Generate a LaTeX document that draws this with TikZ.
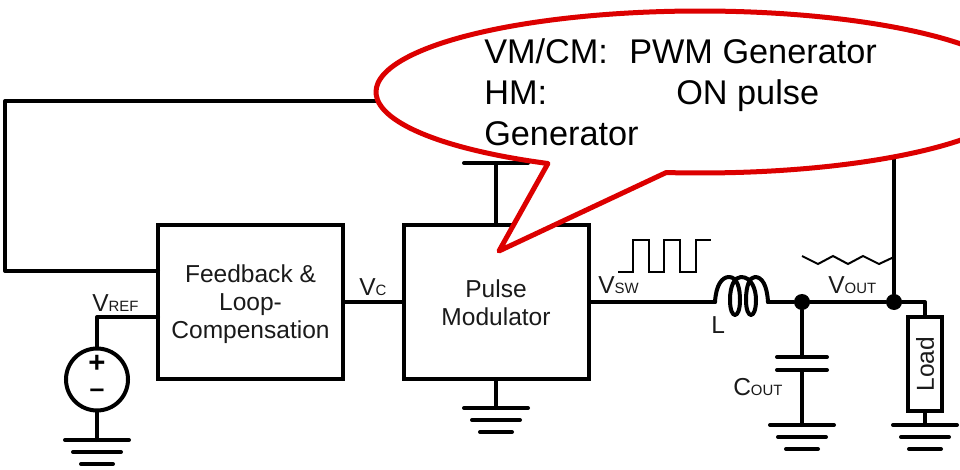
\documentclass[tikz,border=0pt]{standalone}
\usepackage{fontspec}
\setmainfont{Liberation Sans}
\newcommand{\lblbig}{\fontsize{18.4}{21}\selectfont}
\newcommand{\lblsmall}{\fontsize{11.2}{13}\selectfont}
\newcommand{\vlabel}[2]{{\lblbig #1}{\lblsmall #2}}
\definecolor{calloutred}{HTML}{DC0000}
\definecolor{inktext}{HTML}{1A1A1A}
\tikzset{
  wire/.style={line width=3pt,line join=round,line cap=round,black},
  thinwave/.style={line width=1.5pt,line join=miter,black},
  block/.style={draw,line width=3pt,rectangle,inner sep=0pt},
  blocktext/.style={align=center,font=\lblbig,text=inktext,inner sep=0pt},
  lbl/.style={inner sep=0pt,anchor=base west,text=inktext,font=\lblbig},
  dot/.style={circle,fill=black,inner sep=0pt,minimum size=12pt},
  callout/.style={draw=calloutred,fill=white,line width=3.75pt,line join=round},
}
\begin{document}
\begin{tikzpicture}[x=0.75pt,y=-0.75pt]
\useasboundingbox (0,0) rectangle (960,470);
% blocks
\node[block,minimum width=138.75pt,minimum height=115.5pt] (fb) at (250.5,302) {};
\node[blocktext] (fbtxt) at (250.5,304) {Feedback \&\\Loop-\\Compensation};
\node[block,minimum width=138.75pt,minimum height=115.5pt] (pm) at (496,302) {};
\node[blocktext] (pmtxt) at (496,303) {Pulse\\Modulator};
\node[block,minimum width=25.5pt,minimum height=70.5pt] (load) at (925,364) {};
\node[blocktext,rotate=90] (loadtxt) at (925,364) {Load};
\node[draw,line width=3pt,circle,minimum size=46.5pt,inner sep=0pt] (src) at (97,379.5) {};
\node[inner sep=0pt,font=\fontsize{22}{22}\selectfont\bfseries] (plus) at (97,364) {+};
\node[inner sep=0pt,font=\fontsize{20}{20}\selectfont\bfseries] (minus) at (97,393) {–};
% junctions
\node[dot] (j1) at (802,302) {};
\node[dot] (j2) at (894,302) {};
% named coordinates
\coordinate (ref) at (97,317);
\coordinate (fbin) at (158,317);
\coordinate (fbs) at (158,271);
\coordinate (bl) at (5,271);
\coordinate (tl) at (5,101);
\coordinate (tr) at (894,101);
\coordinate (coilin) at (715,302);
\coordinate (coilout) at (768,302);
\coordinate (lc) at (925,302);
\coordinate (vdd) at (496,163);
\coordinate (capa) at (802,357);
\coordinate (capb) at (802,370);
% grounds
\coordinate (g1) at (97,440);
\coordinate (g2) at (496,408);
\coordinate (g3) at (802,425);
\coordinate (g4) at (925,425);
\foreach \g in {g1,g2,g3,g4}{
  \draw[wire] ([xshift=-32*0.75pt]\g) -- ([xshift=32*0.75pt]\g);
  \draw[wire] ([xshift=-24*0.75pt,yshift=-12*0.75pt]\g) -- ([xshift=24*0.75pt,yshift=-12*0.75pt]\g);
  \draw[wire] ([xshift=-16*0.75pt,yshift=-24*0.75pt]\g) -- ([xshift=16*0.75pt,yshift=-24*0.75pt]\g);
}
% wires
\draw[wire] (fbs) -- (bl) -- (tl) -- (tr) -- (j2);
\draw[wire] (fb.east) -- (pm.west);
\draw[wire] (src.north) -- (ref) -- (fbin);
\draw[wire] (src.south) -- (g1);
\draw[wire] (pm.south) -- (g2);
\draw[wire] (pm.north) -- (vdd);
\draw[wire] ([xshift=-32*0.75pt]vdd) -- ([xshift=32*0.75pt]vdd);
\draw[wire] (pm.east) -- (coilin);
\draw[wire] (coilin) .. controls (716,285) and (722,277) .. (729,277)
  .. controls (738,277) and (740,290) .. (740,300)
  .. controls (740,320) and (730,320) .. (730,300)
  .. controls (730,285) and (735,277) .. (741,277)
  .. controls (752,277) and (756,290) .. (756,300)
  .. controls (756,320) and (746,320) .. (746,300)
  .. controls (746,285) and (750,277) .. (755,277)
  .. controls (762,277) and (767,285) .. (coilout);
\draw[wire] (coilout) -- (j1) -- (j2) -- (lc) -- (load.north);
\draw[wire] (j1) -- (capa);
\draw[wire] ([xshift=-25*0.75pt]capa) -- ([xshift=25*0.75pt]capa);
\draw[wire] ([xshift=-25*0.75pt]capb) -- ([xshift=25*0.75pt]capb);
\draw[wire] (capb) -- (g3);
\draw[wire] (load.south) -- (g4);
% waveforms
\draw[thinwave] (618,272) -- (633,272) -- (633,240) -- (649,240) -- (649,272) -- (664,272) -- (664,240) -- (680,240) -- (680,272) -- (696,272) -- (696,240) -- (711,240);
\draw[thinwave] (802,256) -- (818,264) -- (833,256) -- (848,264) -- (863,256) -- (879,264) -- (894,257);
% labels
\node[lbl] (vref) at (92,311) {\vlabel{V}{REF}};
\node[lbl] (vc) at (359,296) {\vlabel{V}{C}};
\node[lbl] (vsw) at (598,294) {\vlabel{V}{SW}};
\node[lbl] (vout) at (828,294) {\vlabel{V}{OUT}};
\node[lbl] (cout) at (733,395) {\vlabel{C}{OUT}};
\node[lbl] (ind) at (711,333) {L};
% callout
\begin{scope}
\clip (0,0) rectangle (960,470);
\draw[callout] (499,251) -- plot[domain=118:456,samples=120,smooth] ({700+324*cos(\x)},{92+81*sin(\x)}) -- cycle;
\end{scope}
\node[inner sep=0pt,anchor=north west,align=left,text=black,font=\fontsize{25.7}{30.75}\selectfont] (note) at (484,38) {\makebox[108.75pt][l]{VM/CM:}PWM Generator\\\makebox[144pt][l]{HM:}ON pulse\\Generator};
\end{tikzpicture}
\end{document}
